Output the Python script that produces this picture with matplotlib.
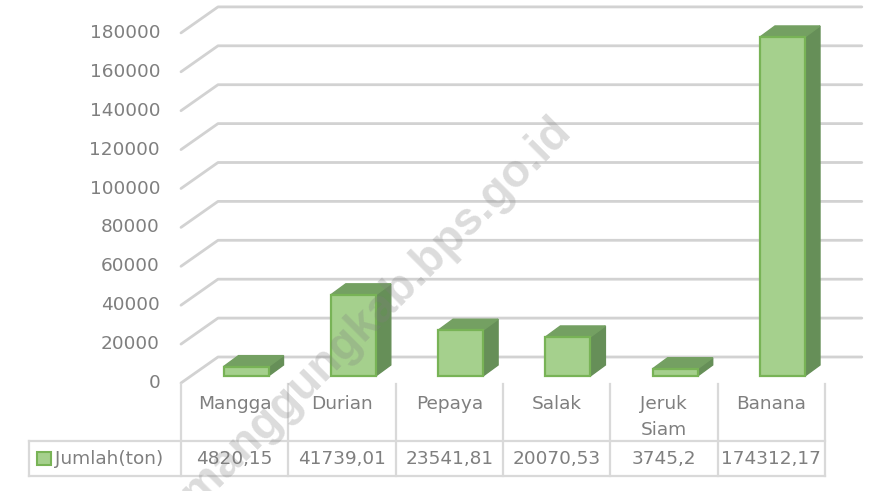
import matplotlib
matplotlib.use("Agg")
import matplotlib.pyplot as plt
from matplotlib.patches import Polygon, Rectangle

plt.rcParams["font.family"] = ["DejaVu Sans"]

# data
categories = ["Mangga", "Durian", "Pepaya", "Salak", "Jeruk\nSiam", "Banana"]
values = [4820.15, 41739.01, 23541.81, 20070.53, 3745.2, 174312.17]
value_labels = ["4820,15", "41739,01", "23541,81", "20070,53", "3745,2", "174312,17"]
series_name = "Jumlah(ton)"
yticks = list(range(0, 180001, 20000))

W, H = 883, 491
CELL_PX = 107.3      # width of one category
X0_PX = 181          # pixel of category edge 0
Y0_PX = 383          # pixel of value 0 on the front edge
UNIT_PX = 38.9 / 20000

TEXT = "#7f7f7f"
GRID = "#d2d2d2"
TABLE = "#d9d9d9"
FRONT = "#a5d08d"
EDGE = "#78b356"
SIDE = "#668f58"
TOP = "#74a062"

fig = plt.figure(figsize=(W / 100, H / 100), dpi=100)
ax = fig.add_axes([0, 0, 1, 1])
ax.set_xlim(-X0_PX / CELL_PX, (W - X0_PX) / CELL_PX)
ax.set_ylim((Y0_PX - H) / UNIT_PX, Y0_PX / UNIT_PX)
ax.axis("off")

# 3d offsets in data units
dx = 37 / CELL_PX
dy = 26 / UNIT_PX
bar_off_x = 42.5 / CELL_PX
bar_off_y = 7 / UNIT_PX
bar_w = 45 / CELL_PX
bar_dx = 15 / CELL_PX
bar_dy = 11 / UNIT_PX

# gridlines with the slanted wall part
for t in yticks:
    ax.plot([0, dx, 6 + dx], [t, t + dy, t + dy], color=GRID, lw=2, solid_capstyle="round", zorder=1)
    ax.text(-21 / CELL_PX, t, str(t), ha="right", va="center", color=TEXT, fontsize=13.3)

# bars
for i, v in enumerate(values):
    x = i + bar_off_x
    y = bar_off_y
    top = y + v
    ax.add_patch(Polygon([(x + bar_w, y), (x + bar_w + bar_dx, y + bar_dy),
                          (x + bar_w + bar_dx, top + bar_dy), (x + bar_w, top)],
                         fc=SIDE, ec=SIDE, lw=1, zorder=3))
    ax.add_patch(Polygon([(x, top), (x + bar_dx, top + bar_dy),
                          (x + bar_w + bar_dx, top + bar_dy), (x + bar_w, top)],
                         fc=TOP, ec=TOP, lw=1, zorder=3))
    ax.add_patch(Rectangle((x, y), bar_w, v, fc=FRONT, ec=EDGE, lw=1.6, zorder=4))

# data table, same x scale, y in rows below the axis
row_top = -1 / UNIT_PX
row_mid = -58 / UNIT_PX
row_bot = -93 / UNIT_PX
legend_x = (29 - X0_PX) / CELL_PX
for i in range(7):
    ax.plot([i, i], [row_top, row_bot], color=TABLE, lw=1.6, zorder=1)
ax.plot([legend_x, legend_x], [row_mid, row_bot], color=TABLE, lw=1.6, zorder=1)
ax.plot([legend_x, 6], [row_mid, row_mid], color=TABLE, lw=1.6, zorder=1)
ax.plot([legend_x, 6], [row_bot, row_bot], color=TABLE, lw=1.6, zorder=1)

for i, (c, lab) in enumerate(zip(categories, value_labels)):
    ax.text(i + 0.5, -21 / UNIT_PX, c.split("\n")[0], ha="center", va="center", color=TEXT, fontsize=13.3)
    if "\n" in c:
        ax.text(i + 0.5, -47 / UNIT_PX, c.split("\n")[1], ha="center", va="center", color=TEXT, fontsize=13.3)
    ax.text(i + 0.5, -76 / UNIT_PX, lab, ha="center", va="center", color=TEXT, fontsize=13.3)

ax.add_patch(Rectangle(((37 - X0_PX) / CELL_PX, -82 / UNIT_PX), 14 / CELL_PX, 13 / UNIT_PX,
                       fc=FRONT, ec=EDGE, lw=1.5, zorder=4))
ax.text((55 - X0_PX) / CELL_PX, -76 / UNIT_PX, series_name, ha="left", va="center", color=TEXT, fontsize=13.3)

# watermark, cut by the bottom edge as in the source image
fig.text(565 / W, 1 - 126 / H, "temanggungkab.bps.go.id", rotation=45, ha="right", va="center",
         rotation_mode="anchor", fontsize=33, fontweight="bold", family="Liberation Sans",
         color="#808080", alpha=0.28, zorder=10)

fig.savefig("out.png", dpi=100)
